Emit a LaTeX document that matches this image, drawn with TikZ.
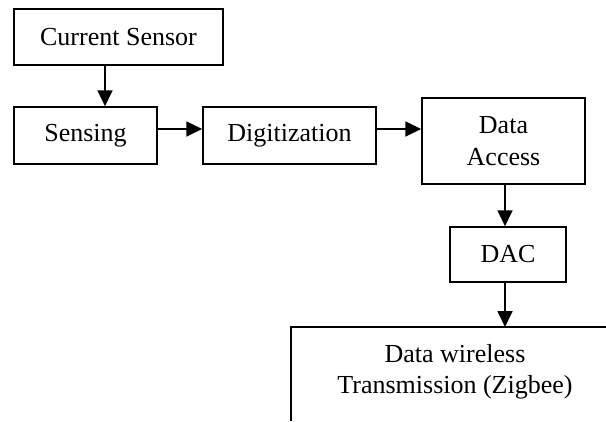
\documentclass[tikz,border=0pt]{standalone}
\usepackage{fontspec}
\setmainfont{Liberation Serif}
\usetikzlibrary{arrows.meta}
\begin{document}
\begin{tikzpicture}[x=1pt,y=-1pt,
  box/.style={draw,line width=1.5pt,inner sep=0pt,align=center,font=\fontsize{26}{31.5}\selectfont},
  lbl/.style={inner sep=0pt,align=center,font=\fontsize{26}{31.5}\selectfont},
  arr/.style={line width=1.8pt,-{Triangle[length=16pt,width=15pt]}}]
\useasboundingbox (0,0) rectangle (606,421);
\node[box,minimum width=209pt,minimum height=56pt] (cs) at (118.5,37) {Current Sensor};
\node[box,minimum width=143pt,minimum height=57pt] (sense) at (85.5,135.5) {Sensing};
\node[box,minimum width=173pt,minimum height=57pt] (dig) at (289.5,135.5) {Digitization};
\node[box,minimum width=163pt,minimum height=86pt] (da) at (503.5,141) {Data\\Access};
\node[box,minimum width=116pt,minimum height=55pt] (dac) at (508,254.5) {DAC};
\node[lbl] (wt) at (455,372) {Data wireless\\Transmission (Zigbee)};
\coordinate (wtl) at (291,421);
\coordinate (wttl) at (291,327);
\coordinate (wttr) at (606,327);
\draw[line width=1.5pt] (wtl) -- (wttl) -- (wttr);
\draw[arr] (cs.south -| 105,0) -- (sense.north -| 105,0);
\draw[arr] (sense.east |- 0,129) -- (dig.west |- 0,129);
\draw[arr] (dig.east |- 0,129) -- (da.west |- 0,129);
\draw[arr] (da.south -| 505,0) -- (dac.north -| 505,0);
\draw[arr] (dac.south -| 505,0) -- (wttl -| 505,0);
\end{tikzpicture}
\end{document}
